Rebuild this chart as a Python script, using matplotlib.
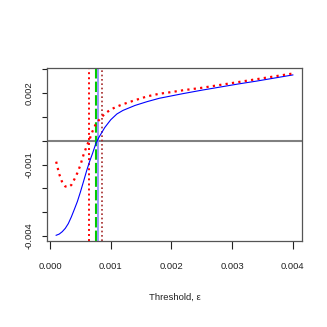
import matplotlib
matplotlib.use("Agg")
import matplotlib.pyplot as plt

threshold = [0.0001, 0.00015, 0.0002, 0.00025, 0.0003, 0.00035, 0.0004, 0.00045,
             0.0005, 0.00055, 0.0006, 0.00065, 0.0007, 0.00075, 0.0008, 0.0009,
             0.001, 0.0011, 0.0012, 0.0014, 0.0016, 0.0018, 0.002, 0.0022,
             0.0025, 0.0028, 0.0031, 0.0034, 0.0037, 0.004]
blue_curve = [-0.00397, -0.00392, -0.00382, -0.00368, -0.00348, -0.00320, -0.00288, -0.00255,
              -0.00215, -0.00172, -0.00128, -0.00088, -0.00053, -0.00015, 0.00012, 0.00055,
              0.00088, 0.00112, 0.00127, 0.00148, 0.00164, 0.00178, 0.00188, 0.00198,
              0.00212, 0.00225, 0.00238, 0.00250, 0.00263, 0.00276]
red_curve = [-0.00088, -0.00140, -0.00175, -0.00192, -0.00195, -0.00186, -0.00162, -0.00135,
             -0.00102, -0.00060, -0.00025, 0.00005, 0.00040, 0.00068, 0.00085, 0.00113,
             0.00131, 0.00143, 0.00153, 0.00170, 0.00186, 0.00197, 0.00204, 0.00212,
             0.00222, 0.00234, 0.00246, 0.00258, 0.00270, 0.00282]
vline_red = 0.00064
vline_green = 0.000755
vline_blue = 0.00079
vline_darkred = 0.00085

xticks = [0.0, 0.001, 0.002, 0.003, 0.004]
xticklabels = ["0.000", "0.001", "0.002", "0.003", "0.004"]
yticks = [-0.004, -0.003, -0.002, -0.001, 0.0, 0.001, 0.002, 0.003]
yticklabels = ["-0.004", "", "", "-0.001", "", "", "0.002", ""]
xlabel = "Threshold, ε"

plt.rcParams['font.family'] = ['Liberation Sans', 'DejaVu Sans']
fs = 6.8

fig = plt.figure(figsize=(3.27, 3.27), dpi=100)
ax = fig.add_axes([0.1428, 0.263, 0.9245 - 0.1428, 0.792 - 0.263])

ax.axhline(0, color='#808080', lw=1.5, zorder=1)
ax.plot(threshold, blue_curve, color='blue', lw=0.8, zorder=3)
ax.plot(threshold, red_curve, color='red', lw=1.6, linestyle=(0, (1, 1.9)), zorder=3)
ax.axvline(vline_red, color='red', lw=1.4, linestyle=(0, (1, 1.6)), zorder=2)
ax.axvline(vline_blue, color='#8a8aff', lw=1.2, zorder=2)
ax.axvline(vline_green, color='#00cc00', lw=1.5, linestyle=(0, (5, 1.5)), zorder=2.5)
ax.axvline(vline_darkred, color='#a52a2a', lw=1.2, linestyle=(0, (1, 1.6)), zorder=2)

ax.set_xlim(-0.000056, 0.004156)
ax.set_ylim(-0.00421, 0.00305)
ax.set_xticks(xticks)
ax.set_xticklabels(xticklabels, fontsize=fs, color='#222222')
ax.set_yticks(yticks)
ax.set_yticklabels(yticklabels, fontsize=fs, color='#222222', rotation=90, va='center')
ax.tick_params(axis='x', length=6, width=0.8, pad=9, color='#222222')
ax.tick_params(axis='y', length=3.6, width=0.8, pad=6, color='#222222')
for s in ax.spines.values():
    s.set_color('#555555')
    s.set_linewidth(0.9)
ax.set_xlabel(xlabel, fontsize=fs, color='#222222', labelpad=16)

fig.savefig("out.png", dpi=100)
